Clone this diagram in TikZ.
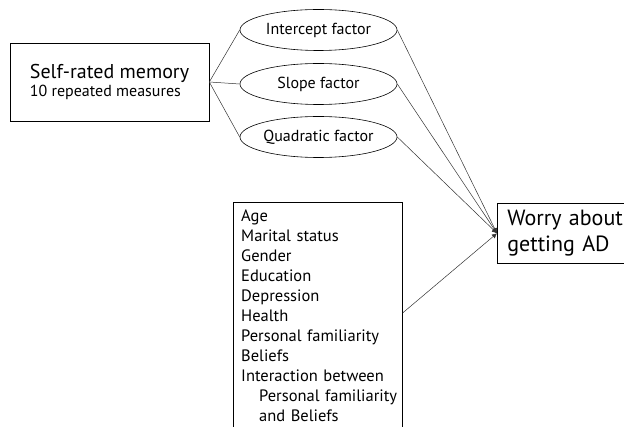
\documentclass[tikz,border=0pt]{standalone}
\usepackage{fontspec}
\setmainfont{PT Sans}
\usetikzlibrary{shapes.geometric,arrows.meta,calc}
\tikzset{
  box/.style={draw, line width=0.6pt, rectangle, inner sep=0pt},
  factor/.style={draw, line width=0.6pt, ellipse, minimum width=157pt, minimum height=41pt, inner sep=0pt, font=\fontsize{16}{18}\selectfont},
  conn/.style={line width=0.5pt, draw=black!80},
  arr/.style={conn, -{Latex[length=5pt,width=5pt]}}
}
\begin{document}
\begin{tikzpicture}[x=1pt,y=1pt]
\clip (0,0) rectangle (624,-427);
\node[box, minimum width=199pt, minimum height=78pt, align=left, font=\fontsize{16}{18}\selectfont] (mem) at (109.5,-82)
  {{\fontsize{20}{18}\selectfont Self-rated memory}\\10 repeated measures};
\node[factor] (int) at (318.5,-30) {Intercept factor};
\node[factor] (slo) at (318.5,-84) {Slope factor};
\node[factor] (qua) at (318.5,-137) {Quadratic factor};
\node[box, anchor=north west, minimum width=145pt, minimum height=60pt, text width=125pt, inner xsep=10pt, align=left, font=\fontsize{22}{26}\selectfont] (worry) at (497,-203)
  {Worry about\\getting AD};
\node[box, anchor=north west, minimum width=169pt, minimum height=240pt] (cov) at (233,-202) {};
\node[anchor=base west, inner sep=0pt, text width=170pt, align=left, font=\fontsize{16.5}{20}\selectfont] (covtext) at (241,-222)
  {Age\\Marital status\\Gender\\Education\\Depression\\Health\\Personal familiarity\\Beliefs\\Interaction between\\\hspace*{18pt}Personal familiarity\\\hspace*{18pt}and Beliefs};
\coordinate (covout) at ($(cov.north east)+(0,-111pt)$);
\draw[conn] (mem.east) -- (int.west);
\draw[conn] (mem.east) -- (slo.west);
\draw[conn] (mem.east) -- (qua.west);
\draw[arr] (int.east) -- (worry.west);
\draw[arr] (slo.east) -- (worry.west);
\draw[arr] (qua.east) -- (worry.west);
\draw[arr] (covout) -- (worry.west);
\end{tikzpicture}
\end{document}
